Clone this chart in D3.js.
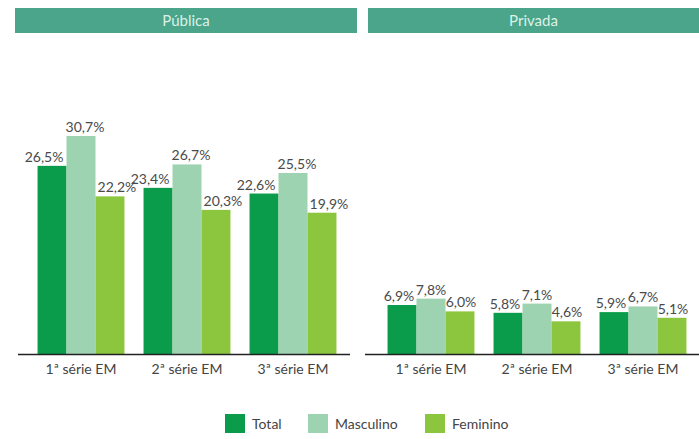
<!DOCTYPE html>
<html>
<head>
<meta charset="utf-8">
<script src="https://cdn.jsdelivr.net/npm/d3@7"></script>
<style>
  body { margin: 0; background: #fff; }
  text { font-family: Lato, "Open Sans", sans-serif; }
</style>
</head>
<body>
<div id="chart"></div>
<script>
// dados
const panels = ['Pública', 'Privada'];
const categories = ['1ª série EM', '2ª série EM', '3ª série EM'];
const series = ['Total', 'Masculino', 'Feminino'];
const publicaTotal = [26.5, 23.4, 22.6];
const publicaMasc = [30.7, 26.7, 25.5];
const publicaFem = [22.2, 20.3, 19.9];
const privadaTotal = [6.9, 5.8, 5.9];
const privadaMasc = [7.8, 7.1, 6.7];
const privadaFem = [6.0, 4.6, 5.1];

const panelValues = [
    [publicaTotal, publicaMasc, publicaFem],
    [privadaTotal, privadaMasc, privadaFem],
];
const colors = ['#0a9c4a', '#9dd3b0', '#8cc63f'];

const W = 699, H = 439;
const svg = d3.select('#chart').append('svg').attr('width', W).attr('height', H);

const baseY = 354;
const y = d3.scaleLinear().domain([0, 40]).range([baseY, 70]);
const fmt = v => d3.format('.1f')(v).replace('.', ',') + '%';

// layout de cada painel (offsets dos rótulos para não se sobreporem)
const layout = [
    { head: [15, 357], axis: [18, 350], range: [28, 346], shift: [-8, 4, 7] },
    { head: [368, 699], axis: [365, 699], range: [378, 696], shift: [-3, 0, 1] },
];

layout.forEach((L, pi) => {
    const g = svg.append('g');
    // cabeçalho
    g.append('rect')
        .attr('x', L.head[0]).attr('y', 8)
        .attr('width', L.head[1] - L.head[0]).attr('height', 25)
        .attr('fill', '#4aa58a');
    g.append('text')
        .attr('x', (L.head[0] + L.head[1]) / 2).attr('y', 26)
        .attr('text-anchor', 'middle')
        .attr('fill', '#dcf1e6').attr('font-size', 15)
        .text(panels[pi]);

    const x0 = d3.scaleBand().domain(categories).range(L.range)
        .paddingInner(0.18).paddingOuter(0.09);
    const x1 = d3.scaleBand().domain(series).range([0, x0.bandwidth()]);

    const rows = [];
    categories.forEach((c, ci) => {
        series.forEach((s, si) => {
            rows.push({ c, s, si, v: panelValues[pi][si][ci] });
        });
    });

    g.selectAll('rect.bar').data(rows).enter().append('rect')
        .attr('class', 'bar')
        .attr('x', d => x0(d.c) + x1(d.s))
        .attr('y', d => y(d.v))
        .attr('width', x1.bandwidth())
        .attr('height', d => baseY - y(d.v))
        .attr('fill', d => colors[d.si]);

    g.selectAll('text.val').data(rows).enter().append('text')
        .attr('class', 'val')
        .attr('x', d => x0(d.c) + x1(d.s) + x1.bandwidth() / 2 + L.shift[d.si])
        .attr('y', d => y(d.v) - 4)
        .attr('text-anchor', 'middle')
        .attr('font-size', 14)
        .attr('fill', '#4a4a4a')
        .text(d => fmt(d.v));

    // eixo
    g.append('line')
        .attr('x1', L.axis[0]).attr('x2', L.axis[1])
        .attr('y1', baseY + 0.5).attr('y2', baseY + 0.5)
        .attr('stroke', '#222').attr('stroke-width', 1.5);

    const axis = d3.axisBottom(x0).tickSize(0).tickPadding(10);
    const ag = g.append('g').attr('transform', `translate(0,${baseY})`).call(axis);
    ag.select('.domain').remove();
    ag.selectAll('text').attr('font-size', 14).attr('fill', '#444')
        .style('font-family', 'Lato, "Open Sans", sans-serif');
});

// legenda
const legX = [225, 308, 425];
const leg = svg.append('g');
series.forEach((s, i) => {
    leg.append('rect')
        .attr('x', legX[i]).attr('y', 414)
        .attr('width', 20).attr('height', 19)
        .attr('fill', colors[i]);
    leg.append('text')
        .attr('x', legX[i] + 27).attr('y', 429)
        .attr('font-size', 14).attr('fill', '#444')
        .text(s);
});
</script>
</body>
</html>
